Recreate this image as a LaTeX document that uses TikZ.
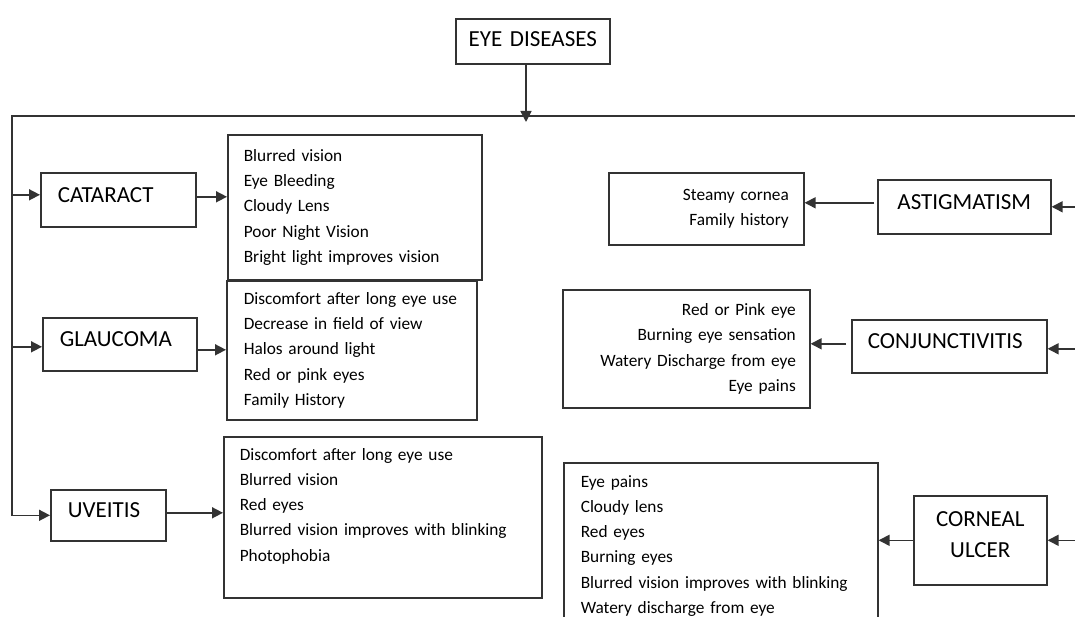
\documentclass[tikz,border=0pt]{standalone}
\usepackage{fontspec}
\setmainfont{Carlito}
\usepackage{tikz}
\usetikzlibrary{arrows.meta}
\newcommand{\diseasefont}{\fontsize{23}{31}\selectfont}
\newcommand{\symptomfont}{\fontsize{17.3}{25.3}\selectfont}

\begin{document}
\begin{tikzpicture}[x=1pt,y=-1pt,
  box/.style={draw=black!80,line width=1.6pt,anchor=north west,inner ysep=0pt},
  disease/.style={box,font=\diseasefont,inner xsep=17pt,text depth=10pt},
  symlist/.style={box,font=\symptomfont,inner xsep=16pt},
  arr/.style={draw=black!80,line width=1.6pt,-{Triangle[length=11pt,width=11pt]}}]
\useasboundingbox (0,0) rectangle (1075,617);
\clip (0,0) rectangle (1075,617);

% diseases
\node[disease,align=center,inner xsep=5pt,text width=144pt,minimum height=45pt,text depth=5pt] (eye) at (455,18) {EYE DISEASES};
\node[disease,align=left,text width=121pt,minimum height=54pt] (cat) at (40,172) {CATARACT};
\node[disease,align=left,text width=120pt,minimum height=53pt] (gla) at (42,317) {GLAUCOMA};
\node[disease,align=left,text width=81pt,minimum height=51pt] (uve) at (50,489) {UVEITIS};
\node[disease,align=center,inner xsep=5pt,text width=163pt,minimum height=54pt] (ast) at (877,179) {ASTIGMATISM};
\node[disease,align=left,inner xsep=16pt,text width=163pt,minimum height=53pt] (con) at (851,319) {CONJUNCTIVITIS};
\node[disease,align=center,inner xsep=5pt,text width=123pt,minimum height=89pt,text depth=43pt] (cor) at (913,495) {CORNEAL\\ULCER};

% symptoms
\node[symlist,align=left,text width=222pt,minimum height=145pt] (catsym) at (227,134)
  {Blurred vision\\Eye Bleeding\\Cloudy Lens\\Poor Night Vision\\Bright light improves vision};
\node[symlist,align=left,inner xsep=17pt,text width=216pt,minimum height=139pt] (glasym) at (226,280)
  {Discomfort after long eye use\\Decrease in field of view\\Halos around light\\Red or pink eyes\\Family History};
\node[symlist,align=left,text width=286pt,minimum height=161pt] (uvesym) at (223,436)
  {Discomfort after long eye use\\Blurred vision\\Red eyes\\Blurred vision improves with blinking\\Photophobia\\\mbox{}};
\node[symlist,align=right,inner xsep=15pt,text width=165pt,minimum height=72pt] (astsym) at (608,172)
  {Steamy cornea\\Family history};
\node[symlist,align=right,inner xsep=14pt,text width=219pt,minimum height=118pt] (consym) at (562,289)
  {Red or Pink eye\\Burning eye sensation\\Watery Discharge from eye\\Eye pains};
\node[symlist,align=left,inner xsep=17pt,text width=280pt,minimum height=166pt] (corsym) at (563,462)
  {Eye pains\\Cloudy lens\\Red eyes\\Burning eyes\\Blurred vision improves with blinking\\Watery discharge from eye};

% bus lines
\coordinate (busL) at (12,116);
\coordinate (busR) at (1075,116);
\coordinate (drop) at (526,122);
\draw[arr] (drop |- eye.south) -- (drop);
\draw[arr] (busR) -- (busL) -- (busL |- uve.west) -- (uve.west);
\draw[arr] ([yshift=5pt]cat.west -| busL) -- ([yshift=5pt]cat.west);
\draw[arr] ([yshift=-2.5pt]gla.west -| busL) -- ([yshift=-2.5pt]gla.west);
\draw[arr] (ast.east -| busR) -- (ast.east);
\draw[arr] ([yshift=-2.5pt]con.east -| busR) -- ([yshift=-2.5pt]con.east);
\draw[arr] (cor.east -| busR) -- (cor.east);

% disease to symptoms
\draw[arr] ([yshift=3pt]cat.east) -- ([yshift=3pt]cat.east -| catsym.west);
\draw[arr] ([yshift=-5.5pt]gla.east) -- ([yshift=-5.5pt]gla.east -| glasym.west);
\draw[arr] ([yshift=2.5pt]uve.east) -- ([yshift=2.5pt]uve.east -| uvesym.west);
\draw[arr] ([xshift=-3pt,yshift=4pt]ast.west) -- ([yshift=4pt]ast.west -| astsym.east);
\draw[arr] ([xshift=-5pt,yshift=2.5pt]con.west) -- ([yshift=2.5pt]con.west -| consym.east);
\draw[arr] (cor.west) -- (cor.west -| corsym.east);
\end{tikzpicture}
\end{document}
